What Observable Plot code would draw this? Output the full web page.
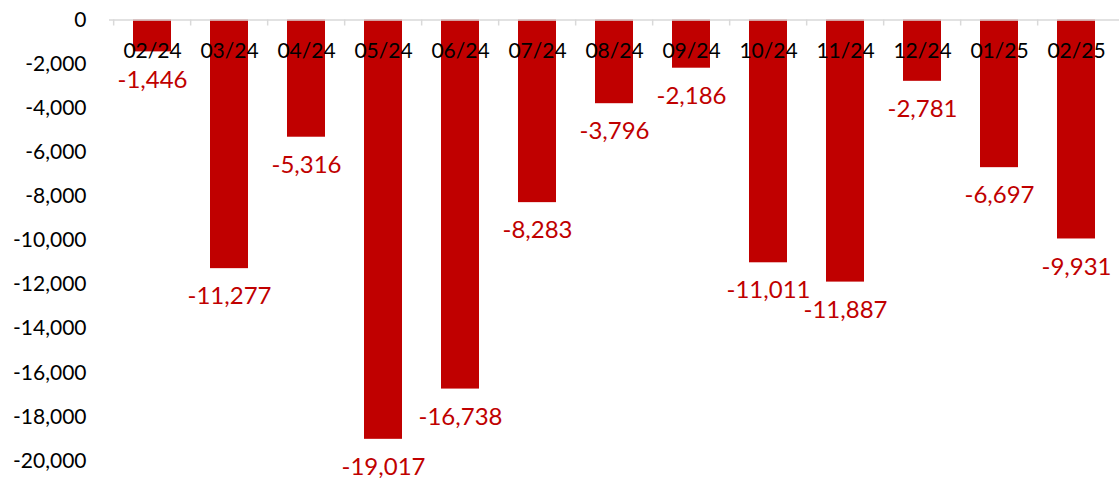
<!DOCTYPE html>
<html>
<head>
<meta charset="utf-8">
<script src="https://cdn.jsdelivr.net/npm/d3@7"></script>
<script src="https://cdn.jsdelivr.net/npm/@observablehq/plot@0.6"></script>
<style>
  html, body { margin: 0; padding: 0; background: #fff; }
  #chart svg { display: block; }
</style>
</head>
<body>
<div id="chart"></div>
<script>
const months = ["02/24","03/24","04/24","05/24","06/24","07/24","08/24","09/24","10/24","11/24","12/24","01/25","02/25"];
const values = [-1446,-11277,-5316,-19017,-16738,-8283,-3796,-2186,-11011,-11887,-2781,-6697,-9931];
const yTicks = [0,-2000,-4000,-6000,-8000,-10000,-12000,-14000,-16000,-18000,-20000];

const data = months.map((m, i) => ({month: m, value: values[i]}));
const fmt = d => d.toLocaleString("en-US");

const width = 1119, height = 478;
const marginLeft = 109, marginRight = 0, marginTop = 19.5, marginBottom = 17.5;
const step = (width - marginLeft - marginRight) / months.length;
const plotHeight = height - marginTop - marginBottom;
const tickLen = 6;

const chart = Plot.plot({
  width, height, marginLeft, marginRight, marginTop, marginBottom,
  style: {fontFamily: "Lato, 'Open Sans', sans-serif", background: "#fff"},
  x: {domain: months, paddingInner: 0.51, paddingOuter: 0.255, axis: null},
  y: {domain: [-20000, 0], axis: null},
  marks: [
    Plot.barY(data, {x: "month", y: "value", fill: "#C00000"}),
    Plot.ruleY([0], {stroke: "#D9D9D9", strokeWidth: 1.5}),
    Plot.ruleX(months, {x: d => d, dx: -step / 2, insetBottom: plotHeight - tickLen, stroke: "#D9D9D9", strokeWidth: 1.5}),
    Plot.axisY(yTicks, {anchor: "left", label: null, tickSize: 0, tickPadding: 23, tickFormat: fmt, fontSize: 21, fill: "#000"}),
    Plot.text(months, {x: d => d, y: 0, dy: 31, text: d => d, fontSize: 21, fill: "#000"}),
    Plot.text(data, {x: "month", y: "value", dy: 28, text: d => fmt(d.value), fontSize: 24, fill: "#C00000"})
  ]
});
document.getElementById("chart").append(chart);
</script>
</body>
</html>
